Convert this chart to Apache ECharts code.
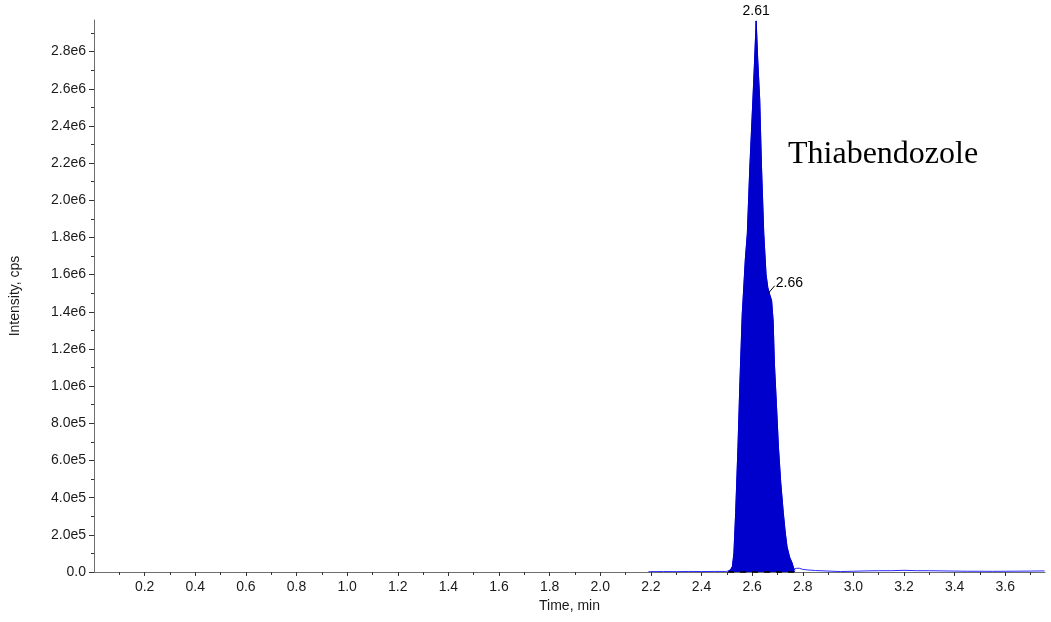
<!DOCTYPE html>
<html>
<head>
<meta charset="utf-8">
<script src="https://cdn.jsdelivr.net/npm/echarts@6/dist/echarts.min.js"></script>
<style>
html,body{margin:0;padding:0;background:#fff;}
#chart{width:1051px;height:622px;}
</style>
</head>
<body>
<div id="chart"></div>
<script>
// Chromatogram trace (time in min, intensity in cps)
var times = [2.19, 2.20, 2.25, 2.30, 2.35, 2.40, 2.45, 2.50,
  2.507, 2.515, 2.522, 2.528, 2.535, 2.544, 2.552, 2.561, 2.564, 2.573, 2.581, 2.591, 2.603, 2.610, 2.616,
  2.622, 2.630, 2.637, 2.646, 2.655, 2.662, 2.670, 2.677, 2.683, 2.688, 2.696, 2.704, 2.713, 2.723, 2.731,
  2.738, 2.748, 2.758, 2.765, 2.770,
  2.775, 2.780, 2.787, 2.800, 2.820, 2.850, 2.900, 2.950, 3.000, 3.050, 3.100, 3.150, 3.200, 3.250, 3.300,
  3.350, 3.400, 3.450, 3.500, 3.550, 3.600, 3.650, 3.700, 3.755];
var intensities = [1500, 2000, 2500, 2000, 3000, 2500, 3000, 3000,
  5000, 12000, 30000, 100000, 320000, 670000, 1030000, 1390000, 1460000, 1680000, 1820000, 2180000, 2540000, 2760000, 2965000,
  2760000, 2540000, 2180000, 1820000, 1600000, 1530000, 1490000, 1460000, 1350000, 1120000, 900000, 670000, 480000, 320000, 210000,
  135000, 80000, 48000, 15000, 10000,
  20000, 27000, 20000, 14000, 11000, 8000, 5000, 2500, 4000, 6000, 7000, 7000, 9000, 7000, 7000,
  6000, 5000, 4000, 4000, 3500, 4000, 4500, 5000, 6000];
// integrated peak window (filled area)
var peakStart = 2.505, peakEnd = 2.770;
// peak labels
var peakLabelTimes = [2.616, 2.662];
var peakLabelValues = [2965000, 1530000];
var peakLabelTexts = ['2.61', '2.66'];
var compoundName = 'Thiabendozole';
// ticks
var xTicks = [0.2, 0.4, 0.6, 0.8, 1.0, 1.2, 1.4, 1.6, 1.8, 2.0, 2.2, 2.4, 2.6, 2.8, 3.0, 3.2, 3.4, 3.6];
var xMinorTicks = [0.1, 0.3, 0.5, 0.7, 0.9, 1.1, 1.3, 1.5, 1.7, 1.9, 2.1, 2.3, 2.5, 2.7, 2.9, 3.1, 3.3, 3.5, 3.7];
var yTicks = [0, 200000, 400000, 600000, 800000, 1000000, 1200000, 1400000, 1600000, 1800000, 2000000, 2200000, 2400000, 2600000, 2800000];
var yMinorTicks = [100000, 300000, 500000, 700000, 900000, 1100000, 1300000, 1500000, 1700000, 1900000, 2100000, 2300000, 2500000, 2700000, 2900000];
var xMin = 0, xMax = 3.757, yMin = 0, yMax = 2970000;

var trace = times.map(function (t, i) { return [t, intensities[i]]; });
var peak = trace.filter(function (p) { return p[0] >= peakStart && p[0] <= peakEnd; });

function yFmt(v) {
  if (v === 0) return '0.0';
  return v.toExponential(1).replace('e+', 'e');
}

var axisColor = '#6e6e6e';
var labelFont = { fontFamily: 'Liberation Sans, Arial, sans-serif', fontSize: 14, color: '#1a1a1a' };

var chart = echarts.init(document.getElementById('chart'), null, { renderer: 'canvas' });
chart.setOption({
  animation: false,
  backgroundColor: '#ffffff',
  grid: { left: 93, right: 6, top: 20, bottom: 50, containLabel: false },
  xAxis: [{
    type: 'value', min: xMin, max: xMax,
    name: 'Time, min', nameLocation: 'middle', nameGap: 24,
    nameTextStyle: { fontFamily: 'Liberation Sans, Arial, sans-serif', fontSize: 14, color: '#1a1a1a' },
    axisLine: { show: true, onZero: false, lineStyle: { color: axisColor, width: 1 } },
    axisTick: { show: true, length: 4, lineStyle: { color: '#333' }, customValues: xTicks },
    axisLabel: Object.assign({ margin: 8, customValues: xTicks, formatter: function (v) { return v.toFixed(1); } }, labelFont),
    splitLine: { show: false }
  }, {
    type: 'value', min: xMin, max: xMax, position: 'bottom', offset: 0,
    axisLine: { show: false },
    axisTick: { show: true, length: 3, lineStyle: { color: '#333' }, customValues: xMinorTicks },
    axisLabel: { show: false },
    splitLine: { show: false }
  }],
  yAxis: [{
    type: 'value', min: yMin, max: yMax, position: 'left',
    name: 'Intensity, cps', nameLocation: 'middle', nameGap: 72,
    nameTextStyle: { fontFamily: 'Liberation Sans, Arial, sans-serif', fontSize: 14, color: '#1a1a1a' },
    axisLine: { show: true, lineStyle: { color: axisColor, width: 1 } },
    axisTick: { show: true, length: 5, lineStyle: { color: '#333' }, customValues: yTicks },
    axisLabel: Object.assign({ margin: 8, customValues: yTicks, formatter: yFmt }, labelFont),
    splitLine: { show: false }
  }, {
    type: 'value', min: yMin, max: yMax, position: 'left', offset: 0,
    axisLine: { show: false },
    axisTick: { show: true, length: 3, lineStyle: { color: '#333' }, customValues: yMinorTicks },
    axisLabel: { show: false },
    splitLine: { show: false }
  }],
  series: [{
    type: 'line', name: 'trace', data: trace, symbol: 'none', z: 2,
    lineStyle: { color: '#2b2bff', width: 1 }
  }, {
    type: 'line', name: 'peak', data: peak, symbol: 'none', z: 3,
    lineStyle: { color: '#0000cc', width: 1 },
    areaStyle: { color: '#0000cc', opacity: 1 },
    markLine: {
      silent: true, symbol: 'none',
      label: { show: false },
      data: [
        [{ coord: [peakStart, 0], lineStyle: { color: '#000', type: [6, 6], width: 1.5 } }, { coord: [peakEnd, 0] }],
        [{ coord: [peakLabelTimes[1] + 0.002, peakLabelValues[1] - 30000], lineStyle: { color: '#000', type: 'solid', width: 1 } },
         { coord: [peakLabelTimes[1] + 0.027, peakLabelValues[1] + 10000] }]
      ]
    },
    markPoint: {
      symbol: 'circle', symbolSize: 0, silent: true,
      data: [
        { coord: [peakLabelTimes[0], peakLabelValues[0]], label: { show: true, formatter: peakLabelTexts[0], position: 'top', distance: 3, fontFamily: 'Liberation Sans, Arial, sans-serif', fontSize: 14, color: '#000' } },
        { coord: [peakLabelTimes[1], peakLabelValues[1]], label: { show: true, formatter: peakLabelTexts[1], position: 'right', offset: [3, -4], fontFamily: 'Liberation Sans, Arial, sans-serif', fontSize: 14, color: '#000' } }
      ]
    }
  }],
  graphic: [{
    type: 'text', left: 788, top: 139,
    style: { text: compoundName, fontFamily: 'Liberation Serif, Times New Roman, serif', fontSize: 32, fill: '#000' }
  }]
});
</script>
</body>
</html>
